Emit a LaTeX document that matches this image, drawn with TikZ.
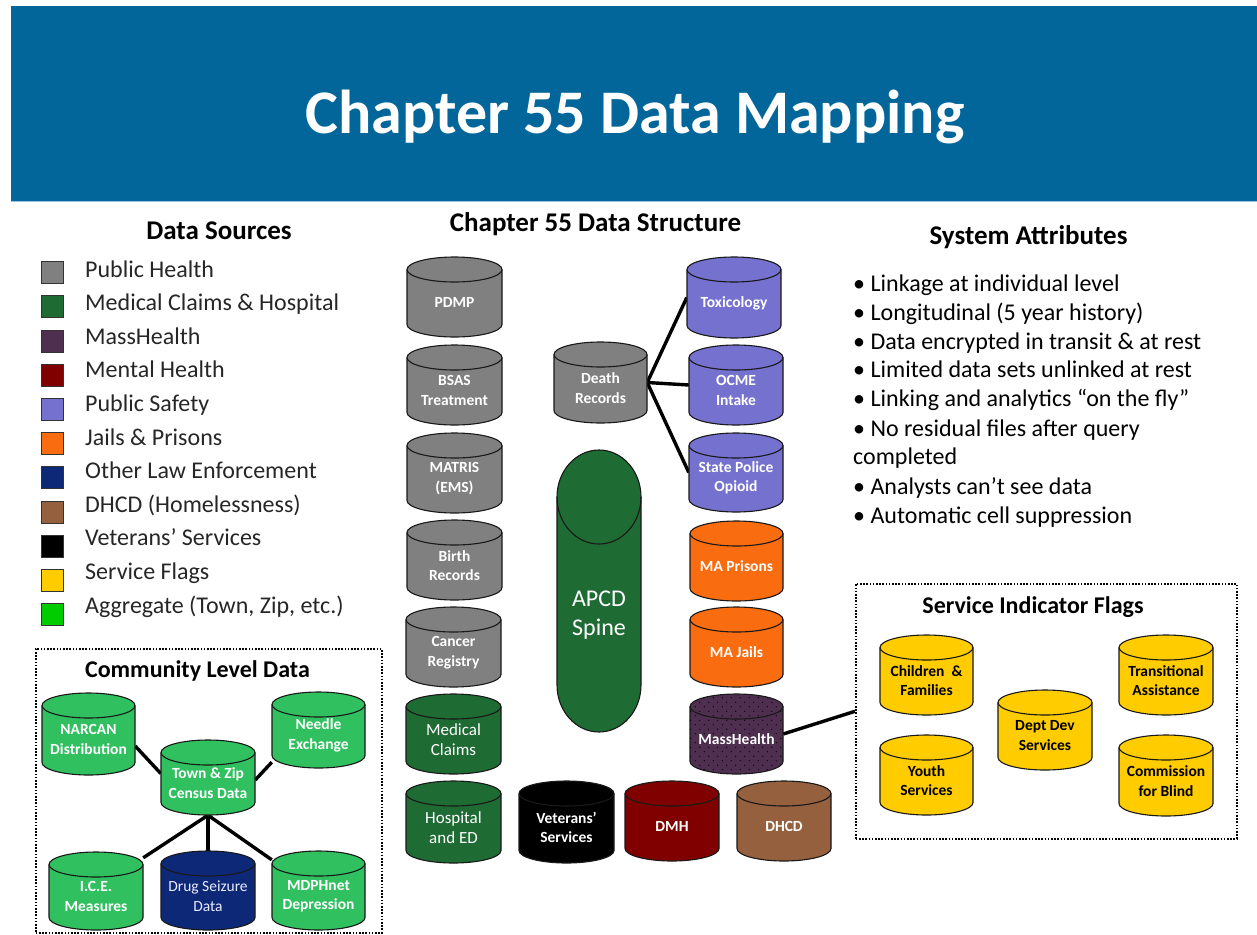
\documentclass[tikz,border=0pt]{standalone}
\usepackage{fontspec}
\setmainfont{Carlito}
\usetikzlibrary{calc,patterns}
\pgfdeclarelayer{bg}
\pgfsetlayers{bg,main}
\pgfdeclarepatternformonly{sparsedots}{\pgfpoint{-1pt}{-1pt}}{\pgfpoint{10pt}{10pt}}{\pgfpoint{9pt}{9pt}}{%
  \pgfpathcircle{\pgfpoint{2.25pt}{2.25pt}}{0.65pt}%
  \pgfpathcircle{\pgfpoint{6.75pt}{6.75pt}}{0.65pt}%
  \pgfusepath{fill}}
\definecolor{hdr}{HTML}{02669A}
\definecolor{hdrline}{HTML}{9DC3E6}
\definecolor{gph}{HTML}{808080}
\definecolor{mcg}{HTML}{1E6B34}
\definecolor{mhp}{HTML}{4F2F4F}
\definecolor{mnt}{HTML}{800000}
\definecolor{psf}{HTML}{7471CF}
\definecolor{jal}{HTML}{FA6C10}
\definecolor{olf}{HTML}{0E2878}
\definecolor{dhc}{HTML}{94603E}
\definecolor{sfl}{HTML}{FFCC00}
\definecolor{agg}{HTML}{00CC00}
\definecolor{cgr}{HTML}{30C060}
\tikzset{
  cylbox/.style={rectangle, inner sep=0pt, draw=none},
  cylline/.style={draw=black!90, line width=1.1pt},
  cyltext/.style={text=white, align=center, inner sep=0pt, font=\fontsize{15.5}{19.5}\selectfont\bfseries},
  cylreg/.style={font=\fontsize{17}{20}\selectfont},
  drugtxt/.style={font=\fontsize{15.5}{19.5}\selectfont, text=white!92!blue},
  darktext/.style={text=black},
  link/.style={line width=3.4pt, draw=black},
  dotbox/.style={rectangle, inner sep=0pt, draw=black, line width=1.6pt, dash pattern=on 1.6pt off 1.6pt},
  hdg/.style={anchor=base, inner sep=0pt, text=black, font=\fontsize{27}{32}\selectfont\bfseries},
  legsq/.style={rectangle, draw=black!80, line width=0.8pt, minimum size=22pt, inner sep=0pt},
  legtxt/.style={anchor=base west, inner sep=0pt, text=black!85, font=\fontsize{24}{29}\selectfont},
  bul/.style={anchor=base west, inner sep=0pt, text=black, font=\fontsize{24}{29}\selectfont},
}
% \dbcyl[text style]{name}{x left}{y top}{x right}{y bottom}{fill options}{text}
\newcommand{\dbcyl}[8][]{%
  \pgfmathsetmacro{\cxa}{(#3+#5)/2}%
  \pgfmathsetmacro{\cya}{(#4+#6)/2}%
  \pgfmathsetmacro{\rxa}{(#5-#3)/2}%
  \node[cylbox, minimum width={(#5-#3)*1pt}, minimum height={(#6-#4)*1pt}] (#2) at (\cxa,-\cya) {};
  \draw[cylline, #7] (#3,-#4-12.5) arc[start angle=180, end angle=0, x radius=\rxa pt, y radius=12.5pt]
     -- (#5,-#6+12.5) arc[start angle=0, end angle=-180, x radius=\rxa pt, y radius=12.5pt] -- cycle;
  \draw[cylline] (#3,-#4-12.5) arc[start angle=180, end angle=360, x radius=\rxa pt, y radius=12.5pt];
  \node[cyltext, #1] at (\cxa,-\cya-5.5) {#8};
}
\begin{document}
\begin{tikzpicture}[x=1pt, y=1pt]
\useasboundingbox (0,0) rectangle (1257,-934);
% header
\node[rectangle, fill=hdr, inner sep=0pt, minimum width=1246pt, minimum height=195pt, anchor=north west] (header) at (11,-6) {};
\draw[hdrline, line width=1pt] (header.south west) -- (header.south east);
\node[anchor=base, inner sep=0pt, text=white, font=\fontsize{62}{70}\selectfont\bfseries] (title) at (635,-133) {Chapter 55 Data Mapping};

% headings
\node[hdg] (dshead) at (219,-239.5) {Data Sources};
\node[hdg] (cshead) at (595.5,-231.7) {Chapter\ 55 Data\ Structure};
\node[hdg] (sahead) at (1028.5,-244) {System Attributes};

% legend
\foreach \i/\c/\t in {0/gph/{Public Health}, 1/mcg/{Medical Claims \& Hospital}, 2/mhp/{MassHealth},
  3/mnt/{Mental Health}, 4/psf/{Public Safety}, 5/jal/{Jails \& Prisons}, 6/olf/{Other Law Enforcement},
  7/dhc/{DHCD (Homelessness)}, 8/black/{Veterans’ Services}, 9/sfl/{Service Flags}, 10/agg/{Aggregate (Town, Zip, etc.)}}{
  \node[legsq, fill=\c] (sq\i) at (52.5,{-(272.5+34.2*\i)}) {};
  \node[legtxt] (lt\i) at (85,{-(277+33.6*\i)}) {\t};
}

% system attributes
\node[bul] (b1) at (853,-291) {• Linkage at individual level};
\node[bul] (b2) at (853,-320) {• Longitudinal (5 year history)};
\node[bul] (b3) at (853,-349) {• Data encrypted in transit \& at rest};
\node[bul] (b4) at (853,-377) {• Limited data sets unlinked at rest};
\node[bul] (b5) at (853,-406) {• Linking and analytics “on the fly”};
\node[bul] (b6) at (853,-436) {• No residual files after query};
\node[bul] (b7) at (853,-464) {completed};
\node[bul] (b8) at (853,-494) {• Analysts can’t see data};
\node[bul] (b9) at (853,-523) {• Automatic cell suppression};

% dotted boxes
\node[dotbox, minimum width=381pt, minimum height=255pt, anchor=north west] (flags) at (855,-583) {};
\node[hdg, font=\fontsize{24}{29}\selectfont\bfseries] (flagshead) at (1033,-613) {Service Indicator Flags};
\node[dotbox, minimum width=346pt, minimum height=284pt, anchor=north west] (comm) at (35,-648) {};
\node[hdg, font=\fontsize{24}{29}\selectfont\bfseries] (commhead) at (197.5,-677) {Community Level Data};

% central structure: left column
\dbcyl{pdmp}{407}{257}{502}{337}{fill=gph}{PDMP}
\dbcyl{bsas}{407}{345}{502}{425}{fill=gph}{BSAS\\Treatment}
\dbcyl{matris}{407}{433}{502}{513}{fill=gph}{MATRIS\\(EMS)}
\dbcyl{birth}{407}{520}{502}{600}{fill=gph}{Birth\\Records}
\dbcyl{cancer}{406}{607}{501}{687}{fill=gph}{Cancer\\Registry}
\dbcyl[cylreg]{medclaims}{406}{694}{501}{774}{fill=mcg}{Medical\\Claims}
\dbcyl[cylreg]{hosp}{406}{781}{501}{863}{fill=mcg}{Hospital\\and ED}
% death records
\dbcyl{death}{554}{342}{647}{423}{fill=gph}{Death\\Records}
% right column
\dbcyl{tox}{687}{257}{781}{338}{fill=psf}{Toxicology}
\dbcyl{ocme}{689}{345}{783}{425}{fill=psf}{OCME\\Intake}
\dbcyl{sp}{689}{433}{783}{512}{fill=psf}{State Police\\Opioid}
\dbcyl{prisons}{690}{521}{783}{601}{fill=jal}{MA Prisons}
\dbcyl{jails}{690}{607}{783}{687}{fill=jal}{MA Jails}
\dbcyl{mass}{690}{694}{783}{774}{fill=mhp, postaction={pattern=sparsedots, pattern color=black}}{MassHealth}
% bottom row
\dbcyl{vets}{519}{781}{614}{863}{fill=black}{Veterans’\\Services}
\dbcyl{dmh}{625}{781}{719}{861}{fill=mnt}{DMH}
\dbcyl{dhcd}{737}{781}{831}{861}{fill=dhc}{DHCD}
% APCD spine
\node[cylbox, minimum width=84pt, minimum height=282pt] (spine) at (599,-591) {};
\draw[cylline, fill=mcg] (557,-497) arc[start angle=180, end angle=0, x radius=42pt, y radius=47pt]
   -- (641,-685) arc[start angle=0, end angle=-180, x radius=42pt, y radius=47pt] -- cycle;
\draw[cylline] (557,-497) arc[start angle=180, end angle=360, x radius=42pt, y radius=47pt];
\node[align=center, inner sep=0pt, text=white, font=\fontsize{24}{29.5}\selectfont] (spinetext) at (599,-615) {APCD\\Spine};

% service flags
\dbcyl[darktext]{cf}{880}{635}{973}{715}{fill=sfl}{Children\ \ \&\\Families}
\dbcyl[darktext]{youth}{880}{735}{973}{815}{fill=sfl}{Youth\\Services}
\dbcyl[darktext]{ddev}{998}{690}{1092}{770}{fill=sfl}{Dept Dev\\Services}
\dbcyl[darktext]{trans}{1119}{635}{1213}{715}{fill=sfl}{Transitional\\Assistance}
\dbcyl[darktext]{blind}{1119}{735}{1213}{816}{fill=sfl}{Commission\\for Blind}

% community level data
\dbcyl{narcan}{42}{693}{135}{775}{fill=cgr}{NARCAN\\Distribution}
\dbcyl{needle}{272}{692}{365}{768}{fill=cgr}{Needle\\Exchange}
\dbcyl{town}{161}{740}{255}{815}{fill=cgr}{Town \& Zip\\Census Data}
\dbcyl{ice}{49}{852}{143}{930}{fill=cgr}{I.C.E.\\Measures}
\dbcyl[drugtxt]{drug}{161}{851}{255}{930}{fill=olf}{Drug Seizure\\Data}
\dbcyl{mdph}{272}{851}{365}{930}{fill=cgr}{MDPHnet\\Depression}

% connectors (behind the cylinders)
\begin{pgfonlayer}{bg}
\draw[link] (death.east) -- (tox.west);
\draw[link] (death.east) -- (ocme.west);
\draw[link] (death.east) -- (sp.west);
\draw[link] (mass.east) -- (flags.west);
\draw[link] ($(narcan.east)+(0,-12)$) -- ($(town.west)+(0,4)$);
\draw[link] ($(needle.south west)+(0,6)$) -- ($(town.east)+(0,-2.5)$);
\draw[link] (town.south) -- ($(ice.north east)+(0,-6)$);
\draw[link] (town.south) -- (drug.north);
\draw[link] (town.south) -- ($(mdph.north west)+(0,-9)$);
\end{pgfonlayer}
\end{tikzpicture}
\end{document}
